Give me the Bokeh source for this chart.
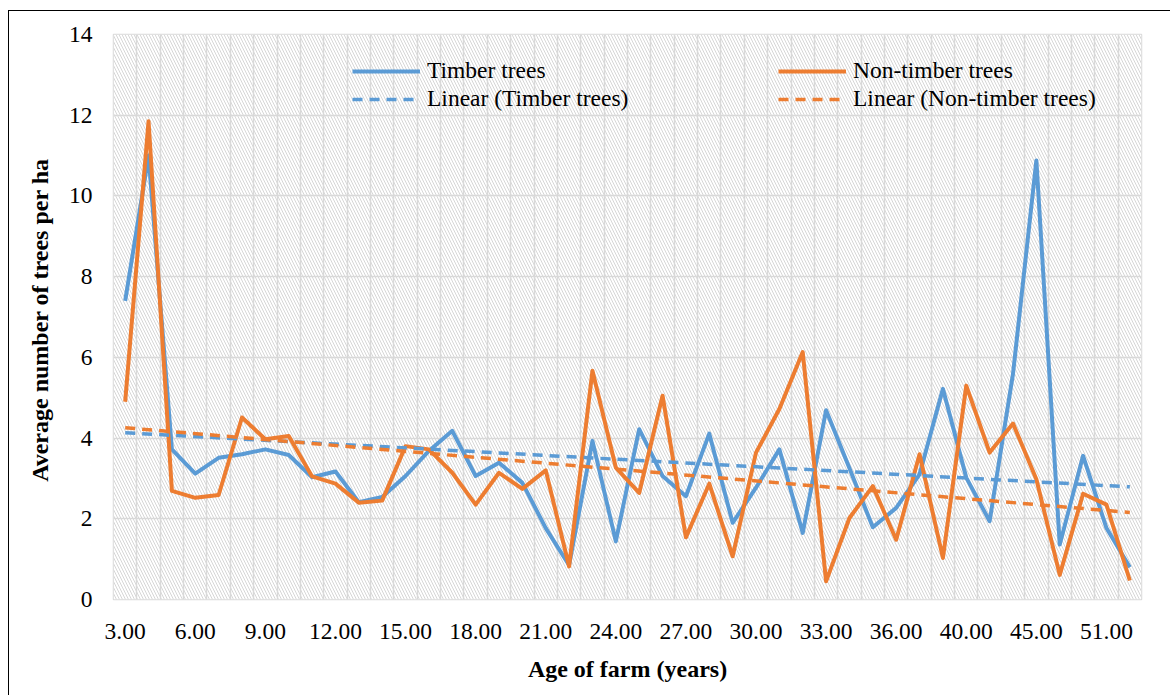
import numpy as np
from bokeh.plotting import figure
from bokeh.models import FixedTicker, Legend, LegendItem, BoxAnnotation, ColumnDataSource
from bokeh.embed import file_html
from bokeh.resources import INLINE

# ---- data ----
ages = [3, 4, 5, 6, 7, 8, 9, 10, 11, 12, 13, 14, 15, 16, 17, 18, 19, 20, 21, 22,
        23, 24, 25, 26, 27, 28, 29, 30, 31, 32, 33, 34, 35, 36, 38, 39, 40, 42, 43,
        45, 48, 50, 51, 55]
timber = [7.40, 11.00, 3.72, 3.12, 3.51, 3.60, 3.72, 3.58, 3.03, 3.17, 2.41, 2.54,
          3.06, 3.68, 4.18, 3.06, 3.39, 2.89, 1.77, 0.85, 3.93, 1.44, 4.22, 3.06,
          2.56, 4.11, 1.90, 2.77, 3.72, 1.65, 4.69, 3.25, 1.79, 2.27, 3.10, 5.22,
          3.02, 1.94, 5.59, 10.88, 1.36, 3.56, 1.77, 0.80]
non_timber = [4.90, 11.85, 2.69, 2.52, 2.59, 4.51, 3.97, 4.05, 3.05, 2.87, 2.40, 2.45,
              3.80, 3.72, 3.14, 2.35, 3.14, 2.74, 3.20, 0.82, 5.67, 3.27, 2.64, 5.05,
              1.54, 2.87, 1.07, 3.64, 4.72, 6.13, 0.45, 2.02, 2.81, 1.48, 3.60, 1.03,
              5.30, 3.64, 4.36, 2.98, 0.61, 2.62, 2.35, 0.47]
y_ticks = [0, 2, 4, 6, 8, 10, 12, 14]
series_names = ["Timber trees", "Non-timber trees"]

BLUE = "#5B9BD5"
ORANGE = "#ED7D31"
FONT = "'Liberation Serif', 'Times New Roman', serif"

idx = list(range(len(ages)))
tick_idx = idx[::3]
tick_labels = {i: f"{ages[i]:.2f}" for i in tick_idx}

# linear trend lines (least squares on category index, as in a spreadsheet)
bt = np.polyfit(idx, timber, 1)
bn = np.polyfit(idx, non_timber, 1)
trend_x = [idx[0], idx[-1]]
trend_t = list(np.polyval(bt, trend_x))
trend_n = list(np.polyval(bn, trend_x))

src = ColumnDataSource(dict(x=idx, timber=timber, non_timber=non_timber))

p = figure(width=1162, height=685, x_range=(-0.5, len(ages) - 0.5), y_range=(0, 14),
           output_backend="svg", toolbar_location=None,
           min_border_left=104, min_border_right=31, min_border_top=23, min_border_bottom=98)
p.margin = (10, 0, 0, 8)
p.styles = {"border-left": "1.5px solid black", "border-top": "1.5px solid black",
            "box-sizing": "content-box"}
p.background_fill_color = "white"
p.border_fill_color = "white"
p.outline_line_color = "#d9d9d9"
p.outline_line_width = 1.5

# hatched plot-area background
bg = BoxAnnotation(fill_color="white", fill_alpha=1.0, line_color=None,
                   hatch_pattern="\\", hatch_color="#d6d6d6", hatch_scale=6,
                   hatch_weight=1, level="image")
p.add_layout(bg)

# grid
p.xgrid.ticker = FixedTicker(ticks=[i + 0.5 for i in idx[:-1]])
p.ygrid.ticker = FixedTicker(ticks=y_ticks)
for g in (p.xgrid, p.ygrid):
    g.grid_line_color = "#d9d9d9"
    g.grid_line_width = 1.5

# axes
p.xaxis.ticker = FixedTicker(ticks=tick_idx)
p.xaxis.major_label_overrides = tick_labels
p.yaxis.ticker = FixedTicker(ticks=y_ticks)
for ax in (p.xaxis, p.yaxis):
    ax.axis_line_color = None
    ax.major_tick_line_color = None
    ax.minor_tick_line_color = None
    ax.major_label_text_font = FONT
    ax.major_label_text_font_size = "23.5px"
    ax.major_label_text_color = "black"
    ax.axis_label_text_font = FONT
    ax.axis_label_text_font_size = "24px"
    ax.axis_label_text_font_style = "bold"
    ax.axis_label_text_color = "black"
p.xaxis.major_label_standoff = 18
p.yaxis.major_label_standoff = 15
p.xaxis.axis_label = "Age of farm (years)"
p.yaxis.axis_label = "Average number  of trees per ha"
p.xaxis.axis_label_standoff = 14
p.yaxis.axis_label_standoff = 13

# lines
r_t = p.line("x", "timber", source=src, line_color=BLUE, line_width=4, line_join="round")
r_n = p.line("x", "non_timber", source=src, line_color=ORANGE, line_width=4, line_join="round")
r_tt = p.line(trend_x, trend_t, line_color=BLUE, line_width=3.5, line_dash="10 7")
r_tn = p.line(trend_x, trend_n, line_color=ORANGE, line_width=3.5, line_dash="10 7")

def make_legend(items, loc):
    lg = Legend(items=items, location=loc, padding=0, margin=0, spacing=1,
                glyph_width=68, glyph_height=22, label_height=22, label_standoff=7,
                border_line_color=None, background_fill_alpha=0,
                label_text_font=FONT, label_text_font_size="23.5px", label_text_color="black")
    p.add_layout(lg)

make_legend([LegendItem(label=series_names[0], renderers=[r_t]),
             LegendItem(label="Linear (" + series_names[0] + ")", renderers=[r_tt])], (239, 487))
make_legend([LegendItem(label=series_names[1], renderers=[r_n]),
             LegendItem(label="Linear (" + series_names[1] + ")", renderers=[r_tn])], (665, 487))

open("out.html", "w").write(file_html(p, INLINE))
